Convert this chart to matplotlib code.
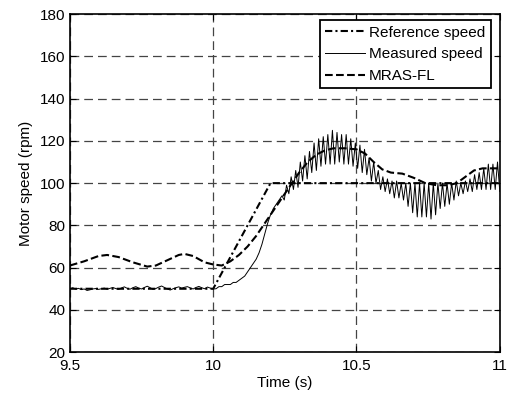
import numpy as np
import matplotlib.pyplot as plt

plt.rcParams['font.family'] = ['Liberation Sans', 'DejaVu Sans']

# reference speed
ref_t = [9.5, 10.0, 10.2, 11.0]
ref_v = [50, 50, 100, 100]

# MRAS-FL estimate
mras_t = [9.5, 9.55, 9.6, 9.63, 9.67, 9.72, 9.77, 9.8, 9.84, 9.88, 9.9, 9.93, 9.97,
          10.0, 10.03, 10.06, 10.09, 10.12, 10.15, 10.18, 10.21, 10.24, 10.27, 10.3,
          10.33, 10.36, 10.39, 10.42, 10.46, 10.5, 10.53, 10.56, 10.59, 10.62, 10.66,
          10.7, 10.74, 10.78, 10.82, 10.85, 10.88, 10.91, 10.94, 10.97, 11.0]
mras_v = [61, 63, 65.5, 66, 65, 62.5, 60.5, 61, 63.5, 66, 66.5, 65.5, 62.5,
          61.5, 61, 63, 66, 70, 75, 81, 87, 93, 99, 105,
          110, 113.5, 115.5, 116.5, 116.5, 116, 114, 110, 106.5, 105, 104.5,
          102.5, 100, 99, 99, 100, 103, 106, 107, 107, 107]

# measured speed, steady part 9.50 .. 10.00 (step 0.01)
meas_flat = [50, 50.5, 49.8, 50.2, 49.6, 49.9, 49.2, 49.5, 49.9, 50.1, 49.7, 50.0,
             50.3, 49.8, 50.2, 50.6, 50.1, 49.7, 50.4, 50.9, 50.2, 49.8, 50.5, 51.0,
             50.3, 49.9, 50.6, 51.2, 50.5, 49.7, 50.1, 50.8, 51.3, 50.6, 49.9, 49.4,
             50.0, 50.5, 50.9, 50.3, 50.7, 51.0, 50.4, 49.9, 50.6, 51.1, 50.5, 50.0,
             50.8, 50.3, 49.9]
# 10.01 .. 10.23 (step 0.01)
meas_rise = [50, 51, 51, 52, 52, 52, 53, 53, 54, 55, 56, 58, 60, 62, 64, 67, 71,
             76, 81, 85, 88, 90, 92]
# 10.240 .. 11.000, oscillating (step 0.008)
meas_osc = [94, 92, 99, 95, 103, 97, 106, 98, 110, 101, 113, 102, 115, 105, 119, 106,
            121, 108, 122, 109, 123, 109, 125, 109, 124, 110, 123, 109, 123, 109, 121,
            108, 119, 107, 118, 105, 116, 104, 112, 101, 110, 100, 106, 97, 103, 96,
            102, 95, 101, 93, 101, 93, 100, 92, 100, 89, 100, 86, 100, 84, 100, 84,
            100, 84, 100, 83, 100, 85, 100, 88, 100, 89, 100, 90, 100, 92, 101, 94,
            100, 95, 101, 96, 102, 96, 104, 97, 105, 97, 107, 97, 109, 97, 109, 97,
            110, 96]

meas_t = np.concatenate([np.linspace(9.5, 10.0, len(meas_flat)),
                         np.linspace(10.01, 10.23, len(meas_rise)),
                         np.linspace(10.24, 11.0, len(meas_osc))])
meas_v = np.concatenate([meas_flat, meas_rise, meas_osc])

fig = plt.figure(figsize=(5.1, 3.93), dpi=100)
ax = fig.add_axes([0.137, 0.104, 0.843, 0.860])

ax.plot(ref_t, ref_v, color='black', linestyle=(0, (3.5, 1.5, 1, 1.5)), linewidth=1.5,
        label='Reference speed')
ax.plot(meas_t, meas_v, color='black', linestyle='-', linewidth=0.7, label='Measured speed')
ax.plot(mras_t, mras_v, color='black', linestyle='--', linewidth=1.5, label='MRAS-FL')

ax.set_xlim(9.5, 11)
ax.set_ylim(20, 180)
ax.set_xticks([9.5, 10, 10.5, 11])
ax.set_xticklabels(['9.5', '10', '10.5', '11'])
ax.set_yticks(range(20, 181, 20))
ax.tick_params(direction='in', top=True, right=True, labelsize=11, length=4)
ax.tick_params(axis='x', pad=5)
ax.tick_params(axis='y', pad=3)
ax.grid(True, color='#444444', linestyle=(0, (7, 4)), linewidth=0.9)
for s in ax.spines.values():
    s.set_linewidth(1.2)

ax.set_xlabel('Time (s)', fontsize=11, labelpad=2)
ax.set_ylabel('Motor speed (rpm)', fontsize=11, labelpad=5)

leg = ax.legend(loc='upper right', bbox_to_anchor=(0.979, 0.982), fontsize=11,
                fancybox=False, framealpha=1, edgecolor='black', handlelength=2.6,
                borderpad=0.35, labelspacing=0.5, handletextpad=0.3, borderaxespad=0)
leg.get_frame().set_linewidth(1.3)

fig.savefig('out.png', dpi=100)
